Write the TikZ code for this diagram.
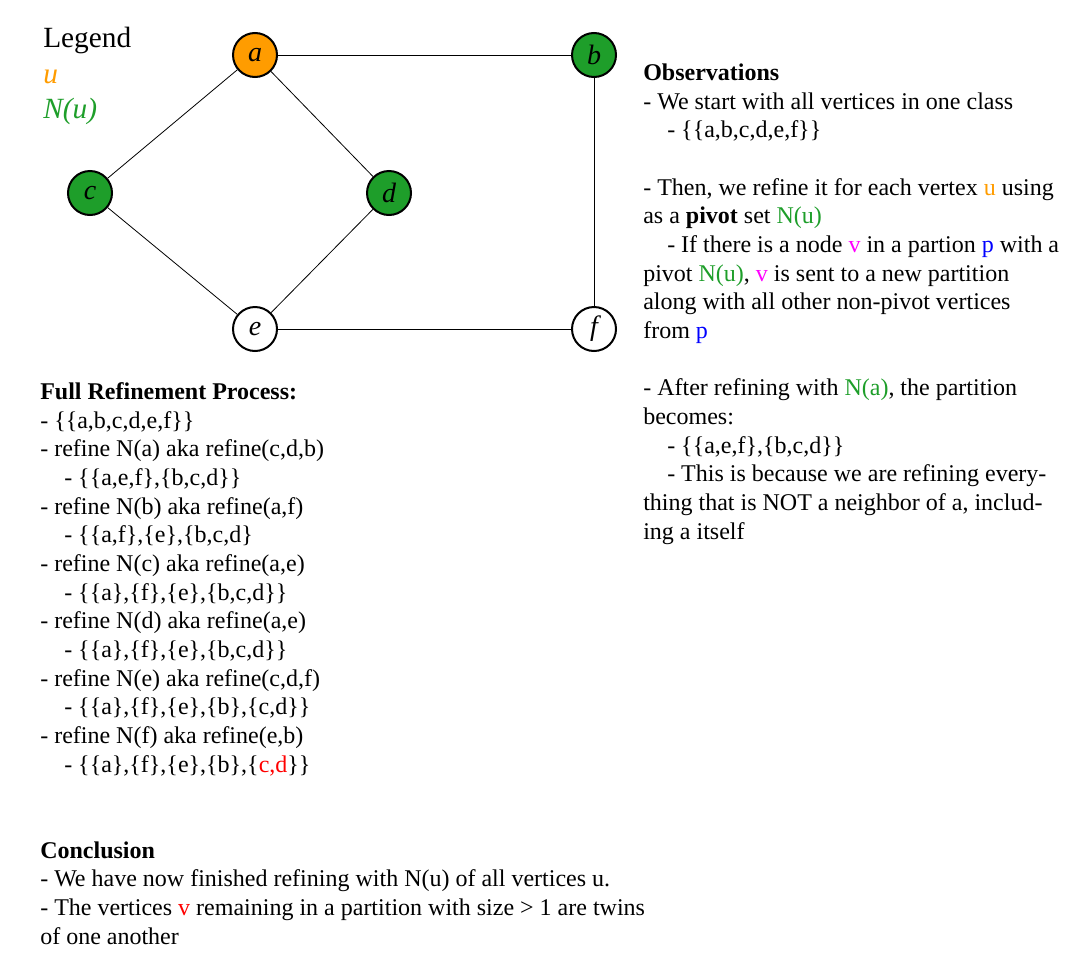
\documentclass[tikz,border=0pt]{standalone}
\usepackage{fontspec}
\setmainfont{Liberation Serif}
\definecolor{uorange}{HTML}{FF9C00}
\definecolor{ngreen}{HTML}{1E9E2A}
\definecolor{vpink}{HTML}{FF00FF}
\definecolor{pblue}{HTML}{0000FF}
\newcommand{\ind}{\hspace*{18pt}}
\begin{document}
\begin{tikzpicture}
        [x=0.75pt, y=-0.75pt,
        vertex/.style={circle,draw,line width=1.5pt,minimum size=33pt,inner sep=0pt, font=\fontsize{21}{21}\selectfont\itshape},
        edge/.style={black, line width=0.6pt},
        txt/.style={anchor=base west, inner sep=0pt, align=left, font=\fontsize{18}{21.5}\selectfont},
        legend/.style={anchor=base west, inner sep=0pt, font=\fontsize{22}{22}\selectfont}]

        \useasboundingbox (0,0) rectangle (1080,964);

        \node[vertex, fill=uorange] (a) at (255,55) {a};
        \node[vertex, fill=ngreen] (b) at (594,55) {b};
        \node[vertex, fill=ngreen] (c) at (90,193) {c};
        \node[vertex, fill=ngreen] (d) at (389,193) {d};
        \node[vertex, fill=white] (e) at (255,329) {e};
        \node[vertex, fill=white] (f) at (594,329) {f};

        % graph edges
        \draw[edge] (a) -- (b);
        \draw[edge] (a) -- (c);
        \draw[edge] (a) -- (d);
        \draw[edge] (c) -- (e);
        \draw[edge] (d) -- (e);
        \draw[edge] (e) -- (f);
        \draw[edge] (b) -- (f);

        % legend
        \node[legend] (legend) at (43,47) {Legend};
        \node[legend, text=uorange] (legu) at (43,83) {\itshape u};
        \node[legend, text=ngreen] (legn) at (43,118) {\itshape N(u)};

        % observations (anchored at the last line)
        \node[txt] (obs) at (643,539) {\textbf{Observations}\\
            - We start with all vertices in one class\\
            \ind- \{\{a,b,c,d,e,f\}\}\\[21.5pt]
            - Then, we refine it for each vertex \textcolor{uorange}{u} using\\
            as a \textbf{pivot} set \textcolor{ngreen}{N(u)}\\
            \ind- If there is a node \textcolor{vpink}{v} in a partion \textcolor{pblue}{p} with a\\
            pivot \textcolor{ngreen}{N(u)}, \textcolor{vpink}{v} is sent to a new partition\\
            along with all other non-pivot vertices\\
            from \textcolor{pblue}{p}\\[21.5pt]
            - After refining with \textcolor{ngreen}{N(a)}, the partition\\
            becomes:\\
            \ind- \{\{a,e,f\},\{b,c,d\}\}\\
            \ind- This is because we are refining every-\\
            thing that is NOT a neighbor of a, includ-\\
            ing a itself};

        % refinement process
        \node[txt] (proc) at (40,772) {\textbf{Full Refinement Process:}\\
            - \{\{a,b,c,d,e,f\}\}\\
            - refine N(a) aka refine(c,d,b)\\
            \ind- \{\{a,e,f\},\{b,c,d\}\}\\
            - refine N(b) aka refine(a,f)\\
            \ind- \{\{a,f\},\{e\},\{b,c,d\}\\
            - refine N(c) aka refine(a,e)\\
            \ind- \{\{a\},\{f\},\{e\},\{b,c,d\}\}\\
            - refine N(d) aka refine(a,e)\\
            \ind- \{\{a\},\{f\},\{e\},\{b,c,d\}\}\\
            - refine N(e) aka refine(c,d,f)\\
            \ind- \{\{a\},\{f\},\{e\},\{b\},\{c,d\}\}\\
            - refine N(f) aka refine(e,b)\\
            \ind- \{\{a\},\{f\},\{e\},\{b\},\{\textcolor{red}{c,d}\}\}};

        % conclusion
        \node[txt] (concl) at (40,944) {\textbf{Conclusion}\\
            - We have now finished refining with N(u) of all vertices u.\\
            - The vertices \textcolor{red}{v} remaining in a partition with size > 1 are twins\\
            of one another};

    \end{tikzpicture}
\end{document}
